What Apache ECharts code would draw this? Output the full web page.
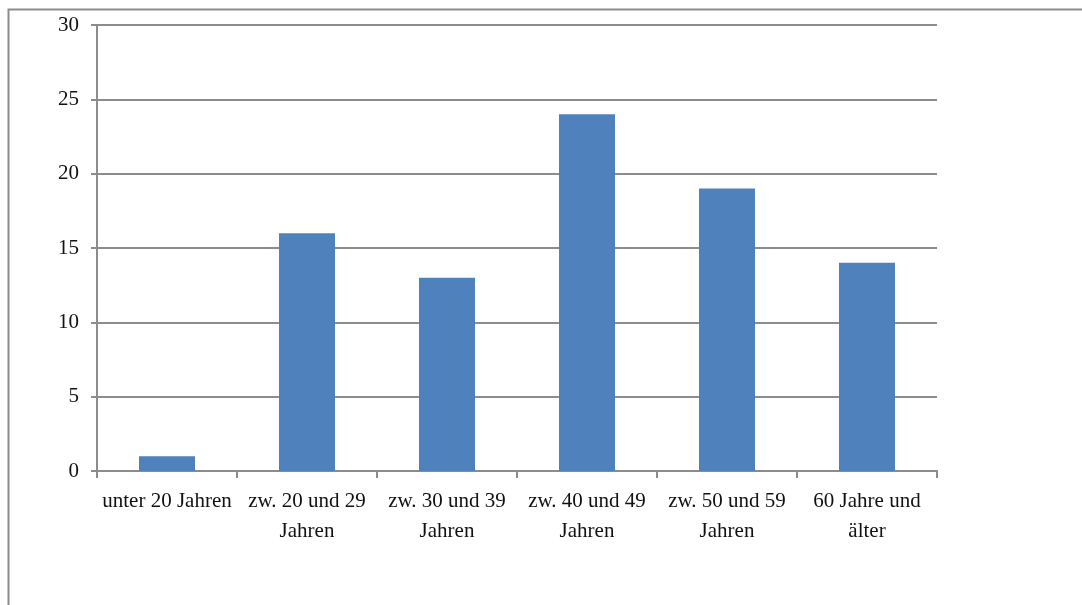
<!DOCTYPE html>
<html>
<head>
<meta charset="utf-8">
<script src="https://cdn.jsdelivr.net/npm/echarts@6/dist/echarts.min.js"></script>
<style>
  html, body { margin: 0; padding: 0; background: #fff; }
  #chart { width: 1082px; height: 605px; }
</style>
</head>
<body>
<div id="chart"></div>
<script>
// Age groups and counts
const categories = [
  'unter 20 Jahren',
  'zw. 20 und 29\nJahren',
  'zw. 30 und 39\nJahren',
  'zw. 40 und 49\nJahren',
  'zw. 50 und 59\nJahren',
  '60 Jahre und\nälter'
];
const counts = [1, 16, 13, 24, 19, 14];
const yTicks = { min: 0, max: 30, interval: 5 };

const gray = '#8c8c8c';
const font = '"Liberation Serif", "Times New Roman", serif';

const chart = echarts.init(document.getElementById('chart'), null, { renderer: 'canvas' });
chart.setOption({
  animation: false,
  backgroundColor: '#fff',
  graphic: [{
    type: 'polyline',
    shape: { points: [[8.5, 610], [8.5, 9.5], [1090, 9.5]] },
    style: { stroke: gray, lineWidth: 2, fill: null },
    silent: true
  }],
  grid: { left: 97, right: 145, top: 25, bottom: 134 },
  xAxis: {
    type: 'category',
    data: categories,
    axisLine: { lineStyle: { color: gray, width: 2 } },
    axisTick: { show: true, length: 7, lineStyle: { color: gray, width: 2 } },
    axisLabel: {
      color: '#111', fontFamily: font, fontSize: 21, margin: 15,
      lineHeight: 30, interval: 0
    }
  },
  yAxis: {
    type: 'value',
    min: yTicks.min, max: yTicks.max, interval: yTicks.interval,
    axisLine: { show: true, lineStyle: { color: gray, width: 2 } },
    axisTick: { show: true, length: 6, lineStyle: { color: gray, width: 2 } },
    splitLine: { show: true, lineStyle: { color: gray, width: 2 } },
    axisLabel: { color: '#111', fontFamily: font, fontSize: 21, margin: 18 }
  },
  series: [{
    type: 'bar',
    data: counts,
    barWidth: '40%',
    itemStyle: { color: '#4f81bd' }
  }]
});
</script>
</body>
</html>
